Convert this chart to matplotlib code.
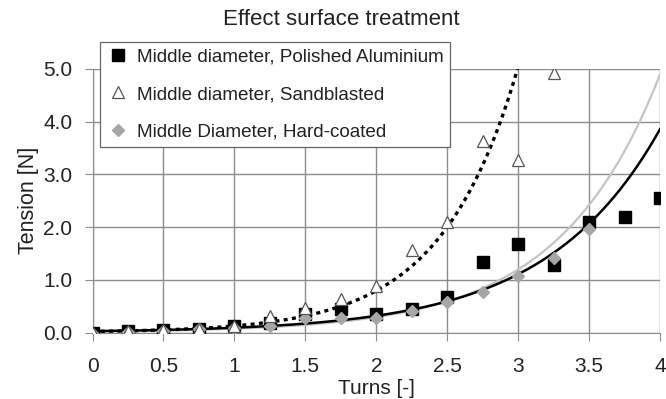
import numpy as np
import matplotlib
matplotlib.use("Agg")
import matplotlib.pyplot as plt

plt.rcParams['font.family'] = ['Liberation Sans', 'DejaVu Sans']

# Measured tension per number of turns
turns = [0, 0.25, 0.5, 0.75, 1, 1.25, 1.5, 1.75, 2, 2.25, 2.5, 2.75, 3, 3.25, 3.5, 3.75, 4]
polished = [0.0, 0.02, 0.04, 0.06, 0.12, 0.18, 0.36, 0.45, 0.36, 0.45, 0.67, 1.33, 1.68, 1.28, 2.09, 2.19, 2.56]

turns_sand = [0, 0.25, 0.5, 0.75, 1, 1.25, 1.5, 1.75, 2, 2.25, 2.5, 2.75, 3, 3.25]
sandblasted = [0.0, 0.02, 0.04, 0.07, 0.12, 0.31, 0.47, 0.63, 0.89, 1.56, 2.09, 3.64, 3.28, 4.92]

turns_hard = [0, 0.25, 0.5, 0.75, 1, 1.25, 1.5, 1.75, 2, 2.25, 2.5, 2.75, 3, 3.25, 3.5]
hardcoated = [-0.02, 0.01, 0.03, 0.06, 0.08, 0.12, 0.27, 0.27, 0.27, 0.41, 0.57, 0.76, 1.08, 1.42, 1.97]

# Exponential trendlines y = a * exp(b * x)
trend_polished = (0.026, 1.25)
trend_sand = (0.0196, 1.85)
trend_hard = (0.0174, 1.41)

fig = plt.figure(figsize=(6.66, 3.99), dpi=100)
ax = fig.add_axes([92.5 / 666, 1 - 332.5 / 399, 567.5 / 666, 263.5 / 399])

xs = np.linspace(0, 4, 300)
xs_sand = np.linspace(0, 3.0, 300)

ax.plot(xs, trend_hard[0] * np.exp(trend_hard[1] * xs), color='#c4c4c4', lw=1.6, zorder=3)
ax.plot(xs, trend_polished[0] * np.exp(trend_polished[1] * xs), color='black', lw=1.8, zorder=4)
ax.plot(xs_sand, trend_sand[0] * np.exp(trend_sand[1] * xs_sand), color='black', lw=2.4,
        linestyle=(0, (1.2, 1.3)), zorder=4)

ax.plot(turns, polished, 's', color='black', markersize=8.8, linestyle='none', zorder=5,
        label='Middle diameter, Polished Aluminium')
ax.plot(turns_sand, sandblasted, '^', markerfacecolor='white', markeredgecolor='#555555',
        markeredgewidth=0.9, markersize=8.5, linestyle='none', zorder=6,
        label='Middle diameter, Sandblasted')
ax.plot(turns_hard, hardcoated, 'D', color='#a6a6a6', markersize=5.8, linestyle='none', zorder=5,
        label='Middle Diameter, Hard-coated')

ax.set_xlim(0, 4)
ax.set_ylim(0, 5)
ax.set_xticks(np.arange(0, 4.01, 0.5))
ax.set_xticklabels(['0', '0.5', '1', '1.5', '2', '2.5', '3', '3.5', '4'])
ax.set_yticks(np.arange(0, 5.01, 1))
ax.set_yticklabels(['%.1f' % v for v in np.arange(0, 5.01, 1)])
ax.grid(True, color='#8c8c8c', lw=1)
ax.set_axisbelow(True)
for side in ['top', 'right']:
    ax.spines[side].set_visible(False)
for side in ['left', 'bottom']:
    ax.spines[side].set_color('#8c8c8c')
ax.tick_params(axis='both', direction='out', length=5.5, color='#8c8c8c', labelsize=15,
               labelcolor='#222222')
ax.tick_params(axis='x', pad=12)
ax.tick_params(axis='y', pad=9)

ax.set_xlabel('Turns [-]', fontsize=15, color='#222222')
ax.xaxis.set_label_coords(0.5, -0.178)
ax.set_ylabel('Tension [N]', fontsize=15.5, color='#222222', labelpad=3)
fig.suptitle('Effect surface treatment', fontsize=16, color='#222222', x=0.512, y=0.978)

leg = ax.legend(loc='upper left', bbox_to_anchor=(100 / 666, 1 - 42 / 399),
                bbox_transform=fig.transFigure, borderaxespad=0, fontsize=13.6,
                fancybox=False, framealpha=1, edgecolor='#666666', handlelength=1.2,
                handletextpad=0.45, labelspacing=1.08, borderpad=0.33)
leg.get_frame().set_linewidth(0.9)
for t in leg.get_texts():
    t.set_color('#222222')

fig.savefig('out.png', dpi=100)
